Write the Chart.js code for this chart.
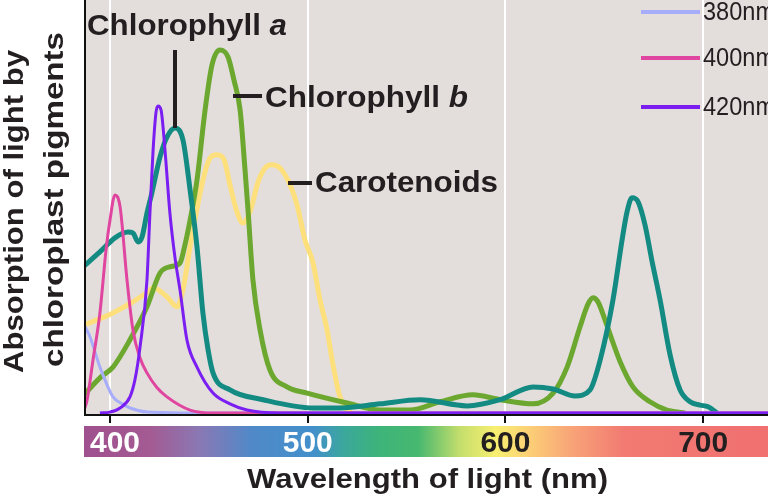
<!DOCTYPE html>
<html>
<head>
<meta charset="utf-8">
<script src="https://cdn.jsdelivr.net/npm/chart.js@4.4.1/dist/chart.umd.min.js"></script>
<style>
  html, body { margin: 0; padding: 0; background: #fff; }
  #wrap { width: 768px; height: 498px; }
</style>
</head>
<body>
<div id="wrap"><canvas id="spectrum" width="768" height="498"></canvas></div>
<script>
// wavelength (nm) / relative absorption
const chlA_nm = [386.9, 394.9, 402.5, 409.1, 411.6, 414.2, 416.2, 418.7, 421.2, 425.3, 428.8, 432.9, 436.9, 440.5, 444.0, 447.0, 449.6, 452.1, 460.7, 477.4, 502.7, 516.3, 536.6, 556.8, 580.6, 597.3, 614.0, 624.1, 635.2, 642.8, 647.9, 654.4, 659.0, 661.5, 664.0, 667.1, 670.6, 674.2, 678.2, 683.3, 688.3, 693.4, 698.4, 702.5, 707.0];
const chlA_abs = [35.6, 39.0, 42.4, 43.8, 43.6, 41.4, 42.6, 48.4, 53.3, 62.0, 66.8, 69.0, 66.1, 54.0, 40.2, 24.2, 15.3, 9.7, 5.6, 3.2, 1.2, 1.2, 2.2, 3.2, 1.7, 3.2, 6.3, 5.8, 4.1, 5.6, 12.8, 27.4, 41.9, 48.7, 52.1, 51.1, 45.5, 36.6, 27.4, 14.0, 5.6, 2.7, 1.9, 1.5, 0];

const chlB_nm = [386.9, 394.9, 401.5, 410.1, 418.7, 425.3, 430.4, 435.4, 437.9, 440.5, 444.0, 448.1, 451.6, 455.6, 459.7, 462.7, 465.8, 468.3, 469.8, 472.3, 475.9, 480.9, 489.5, 499.7, 519.9, 536.6, 551.7, 566.9, 583.6, 597.3, 614.0, 624.1, 631.2, 637.7, 641.8, 644.3, 646.8, 650.4, 653.9, 658.0, 664.5, 673.1, 681.7, 690.9];
const chlB_abs = [4.4, 8.5, 11.1, 17.7, 25.7, 33.9, 35.4, 36.3, 40.7, 46.7, 56.4, 73.4, 84.3, 87.9, 86.2, 80.6, 73.4, 58.8, 49.2, 32.2, 20.1, 10.4, 6.3, 4.8, 2.4, 0.7, 0.7, 2.7, 4.4, 3.2, 2.2, 4.8, 11.1, 20.8, 26.4, 27.9, 26.9, 22.5, 17.7, 12.4, 6.3, 2.7, 0.7, 0];

const carot_nm = [386.9, 401.5, 418.7, 421.8, 428.8, 433.9, 436.9, 440.5, 447.0, 450.6, 454.1, 457.7, 460.7, 464.2, 467.3, 470.8, 474.9, 478.4, 481.9, 486.0, 491.1, 494.6, 498.6, 502.7, 506.2, 509.8, 512.8, 516.3, 519.9, 522.4];
const carot_abs = [21.3, 24.2, 29.1, 30.3, 28.1, 25.7, 29.8, 40.2, 56.4, 61.7, 62.5, 61.3, 55.2, 48.7, 46.0, 48.7, 55.9, 59.3, 60.1, 59.3, 55.2, 50.4, 41.9, 36.3, 27.4, 20.1, 11.6, 3.9, 0.7, 0];

const l380_nm = [386.9, 389.9, 394.9, 398.5, 401.5, 406.1, 410.1, 418.7, 435.4, 733];
const l380_abs = [21.3, 18.4, 11.1, 6.8, 3.9, 2.2, 1.2, 0.2, 0, 0];

const l400_nm = [386.9, 388.4, 391.4, 394.9, 398.0, 400.0, 402.5, 405.1, 408.6, 411.6, 415.2, 418.7, 423.8, 428.8, 440.5, 452.1, 733];
const l400_abs = [0.7, 3.1, 12.8, 24.2, 39.5, 46.7, 52.8, 49.9, 32.2, 20.1, 13.3, 9.7, 6.1, 3.9, 0.7, 0, 0];

const l420_nm = [394.9, 400.0, 405.1, 410.1, 412.6, 415.2, 418.7, 420.2, 421.8, 423.3, 424.3, 425.8, 427.8, 430.3, 432.9, 435.4, 438.9, 444.0, 452.1, 460.7, 469.3, 486.0, 733];
const l420_abs = [0, 0.2, 1.2, 3.9, 8.0, 16.0, 32.2, 48.4, 63.7, 72.9, 74.3, 73.4, 63.7, 48.4, 37.5, 29.8, 17.7, 11.1, 4.8, 2.2, 0.7, 0, 0];

const tickWavelengths = [400, 500, 600, 700];
const tickLabels = ['400', '500', '600', '700'];
const legendLabels = ['380nm', '400nm', '420nm'];

const SANS = '"Liberation Sans", Arial, Helvetica, sans-serif';
const INK = '#231f20';

function pairs(xs, ys) {
    return xs.map((x, i) => ({ x: x, y: ys[i] }));
}

function line(label, xs, ys, color, width) {
    return {
        label: label,
        data: pairs(xs, ys),
        borderColor: color,
        borderWidth: width,
        pointRadius: 0,
        fill: false,
        cubicInterpolationMode: 'monotone'
    };
}

// draws text runs squeezed/stretched to a given width (the original lettering is wide)
function fitText(ctx, runs, x, y, width, color, rotate, baseline) {
    ctx.save();
    ctx.fillStyle = color;
    ctx.textBaseline = baseline || 'alphabetic';
    ctx.textAlign = 'left';
    let total = 0;
    runs.forEach(r => { ctx.font = r[1]; total += ctx.measureText(r[0]).width; });
    ctx.translate(x, y);
    if (rotate) ctx.rotate(-Math.PI / 2);
    ctx.scale(width / total, 1);
    let cx = 0;
    runs.forEach(r => {
        ctx.font = r[1];
        ctx.fillText(r[0], cx, 0);
        cx += ctx.measureText(r[0]).width;
    });
    ctx.restore();
}

const decor = {
    id: 'decor',
    beforeDatasetsDraw(chart) {
        const { ctx, chartArea: a, scales: { x } } = chart;
        ctx.save();
        ctx.fillStyle = '#e3dedc';
        ctx.fillRect(a.left, a.top, a.right - a.left, a.bottom - a.top);
        ctx.strokeStyle = '#ffffff';
        ctx.lineWidth = 2;
        tickWavelengths.forEach(w => {
            const px = Math.round(x.getPixelForValue(w));
            ctx.beginPath();
            ctx.moveTo(px, a.top);
            ctx.lineTo(px, a.bottom);
            ctx.stroke();
        });
        ctx.restore();
    },
    afterDatasetsDraw(chart) {
        const { ctx, chartArea: a, scales: { x } } = chart;
        ctx.save();

        // axes
        ctx.strokeStyle = '#111';
        ctx.lineWidth = 2;
        ctx.beginPath();
        ctx.moveTo(a.left + 1, a.top);
        ctx.lineTo(a.left + 1, a.bottom);
        ctx.lineTo(a.right, a.bottom);
        ctx.stroke();
        tickWavelengths.forEach(w => {
            const px = Math.round(x.getPixelForValue(w));
            ctx.beginPath();
            ctx.moveTo(px, a.bottom);
            ctx.lineTo(px, a.bottom + 8);
            ctx.stroke();
        });

        // spectrum bar under the axis
        const barTop = a.bottom + 11, barH = 31;
        const grad = ctx.createLinearGradient(a.left, 0, a.right, 0);
        const stops = [
            [386.9, '#9f508e'], [420, '#a45a92'], [445, '#8a78b4'], [472, '#5089c8'],
            [503, '#4290cb'], [518, '#3ba79c'], [536, '#3db47a'], [556, '#47b86f'],
            [577, '#c4de6c'], [595, '#f8ef70'], [611, '#fcd276'], [632, '#f8a678'],
            [660, '#f27a72'], [732.8, '#f07070']
        ];
        stops.forEach(s => {
            const t = (x.getPixelForValue(s[0]) - a.left) / (a.right - a.left);
            grad.addColorStop(Math.min(1, Math.max(0, t)), s[1]);
        });
        ctx.fillStyle = grad;
        ctx.fillRect(a.left, barTop, a.right - a.left, barH);

        tickWavelengths.forEach((w, i) => {
            const w0 = 50;
            let cx = x.getPixelForValue(w);
            cx = Math.max(cx, a.left + 6 + w0 / 2);
            fitText(ctx, [[tickLabels[i], 'bold 30px ' + SANS]], cx - w0 / 2, barTop + 26, w0,
                w < 550 ? '#ffffff' : INK, false);
        });

        // axis titles
        fitText(ctx, [['Wavelength of light (nm)', 'bold 27px ' + SANS]], 247, 488, 361, INK, false);
        fitText(ctx, [['Absorption of light by', 'bold 27px ' + SANS]], 23, 373, 323, INK, true);
        fitText(ctx, [['chloroplast pigments', 'bold 27px ' + SANS]], 63, 367, 335, INK, true);

        // curve labels with leader lines
        ctx.strokeStyle = INK;
        ctx.lineWidth = 4;
        ctx.beginPath();
        ctx.moveTo(175, 50); ctx.lineTo(175, 128);
        ctx.moveTo(233, 96); ctx.lineTo(262, 96);
        ctx.moveTo(288, 183); ctx.lineTo(312, 183);
        ctx.stroke();
        fitText(ctx, [['Chlorophyll ', 'bold 29px ' + SANS], ['a', 'italic bold 29px ' + SANS]], 87, 35, 200, INK, false);
        fitText(ctx, [['Chlorophyll ', 'bold 30px ' + SANS], ['b', 'italic bold 30px ' + SANS]], 265, 107, 203, INK, false);
        fitText(ctx, [['Carotenoids', 'bold 30px ' + SANS]], 315, 192, 183, INK, false);

        // legend for the three excitation lines
        const ly = [12, 58, 107];
        chart.data.datasets.slice(0, 3).reverse().forEach((ds, i) => {
            ctx.strokeStyle = ds.borderColor;
            ctx.lineWidth = 4;
            ctx.beginPath();
            ctx.moveTo(641, ly[i]);
            ctx.lineTo(700, ly[i]);
            ctx.stroke();
            fitText(ctx, [[legendLabels[i], '25px ' + SANS]], 703, ly[i] + 1, 72, INK, false, 'middle');
        });
        ctx.restore();
    }
};

new Chart(document.getElementById('spectrum'), {
    type: 'line',
    data: {
        datasets: [
            line('420nm', l420_nm, l420_abs, '#7a1ef2', 3),
            line('400nm', l400_nm, l400_abs, '#e0459f', 3),
            line('380nm', l380_nm, l380_abs, '#a7acfb', 3),
            line('Chlorophyll a', chlA_nm, chlA_abs, '#138b83', 5),
            line('Chlorophyll b', chlB_nm, chlB_abs, '#6ca82f', 5),
            line('Carotenoids', carot_nm, carot_abs, '#fde07c', 5)
        ]
    },
    options: {
        responsive: false,
        animation: false,
        devicePixelRatio: 1,
        layout: { padding: { left: 84, top: 0, right: 0, bottom: 83 } },
        scales: {
            x: { type: 'linear', min: 386.85, max: 732.8, display: false },
            y: { min: -0.5, max: 100, display: false }
        },
        plugins: {
            legend: { display: false },
            tooltip: { enabled: false }
        }
    },
    plugins: [decor]
});
</script>
</body>
</html>
